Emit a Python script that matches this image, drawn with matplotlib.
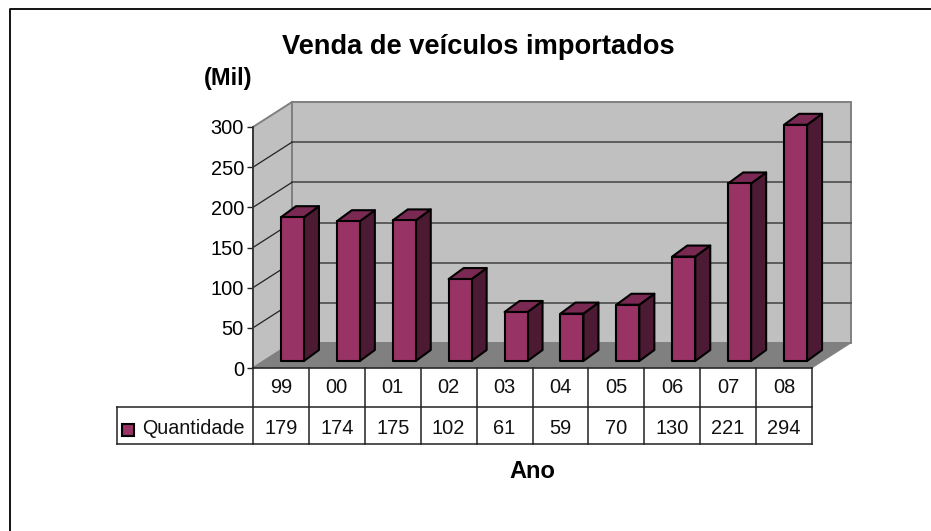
import matplotlib
matplotlib.use("Agg")
import matplotlib.pyplot as plt
from matplotlib.patches import Polygon, Rectangle

plt.rcParams['font.family'] = ['Liberation Sans', 'DejaVu Sans']

anos = ["99", "00", "01", "02", "03", "04", "05", "06", "07", "08"]
quantidade = [179, 174, 175, 102, 61, 59, 70, 130, 221, 294]
yticks = [0, 50, 100, 150, 200, 250, 300]
titulo = "Venda de veículos importados"
serie = "Quantidade"

W, H = 931, 531
X0, X1, Y0, Y1 = 253.0, 812.0, 368.0, 127.0
fig = plt.figure(figsize=(W / 100, H / 100), dpi=100, facecolor="white")
ax = fig.add_axes([X0 / W, 1 - Y0 / H, (X1 - X0) / W, (Y0 - Y1) / H])
ax.set_xlim(0, len(anos))
ax.set_ylim(0, 300)
ax.patch.set_visible(False)

sx = (X1 - X0) / len(anos)
sy = (Y0 - Y1) / 300
px = lambda p: p / sx
py = lambda p: p / sy
dx, dy = px(39), py(25)
n = len(anos)
WALL, FLOOR, GRID = "#C0C0C0", "#808080", "#555555"

# figure frame (cropped at right and bottom)
fig.add_artist(plt.Line2D([9.5 / W, 9.5 / W, 1], [0, 1 - 8.5 / H, 1 - 8.5 / H],
                          color="black", lw=1.3, transform=fig.transFigure))

# walls and floor
ax.add_patch(Polygon([(0, 0), (0, 300), (dx, 300 + dy), (dx, dy)], fc=WALL, ec=FLOOR, lw=1.4, clip_on=False, zorder=1))
ax.add_patch(Polygon([(dx, dy), (dx, 300 + dy), (n + dx, 300 + dy), (n + dx, dy)], fc=WALL, ec=FLOOR, lw=1.4, clip_on=False, zorder=1))
ax.add_patch(Polygon([(0, 0), (dx, dy), (n + dx, dy), (n, 0)], fc=FLOOR, ec=FLOOR, lw=0.5, clip_on=False, zorder=1.5))

# gridlines
for t in yticks[1:-1]:
    ax.plot([dx, n + dx], [t + dy, t + dy], color=GRID, lw=1.3, clip_on=False, zorder=2)
    ax.plot([0, dx], [t, t + dy], color="#222222", lw=0.9, clip_on=False, zorder=2)

# bars
bw = px(23)
fx, fy = px(11.5), py(7)
bdx, bdy = px(15), py(11)
for i, v in enumerate(quantidade):
    l = i + 0.5 - bw / 2 + fx
    r = l + bw
    b = fy
    t = fy + v
    kw = dict(ec="black", lw=1.5, clip_on=False, zorder=3, joinstyle="round")
    ax.add_patch(Polygon([(r, b), (r + bdx, b + bdy), (r + bdx, t + bdy), (r, t)], fc="#4D1A33", **kw))
    ax.add_patch(Polygon([(l, t), (l + bdx, t + bdy), (r + bdx, t + bdy), (r, t)], fc="#7A2952", **kw))
    ax.add_patch(Polygon([(l, b), (r, b), (r, t), (l, t)], fc="#993366", **kw))

# axis
for s in ("top", "right", "bottom"):
    ax.spines[s].set_visible(False)
ax.spines["left"].set_linewidth(1.3)
ax.spines["left"].set_color("#333333")
ax.spines["left"].set_zorder(5)
ax.set_xticks([])
ax.set_yticks(yticks)
ax.tick_params(axis="y", length=4.5, width=1, pad=2, labelsize=14.4, color="#222222")

# data table
r1, r2 = py(-39), py(-76)
xl = px(117 - X0)
tk = dict(color="#222222", lw=1.1, clip_on=False, zorder=6)
ax.plot([0, n], [0, 0], **tk)
ax.plot([xl, n], [r1, r1], **tk)
ax.plot([xl, n], [r2, r2], **tk)
ax.plot([xl, xl], [r1, r2], **tk)
for i in range(n + 1):
    ax.plot([i, i], [0, r2], **tk)
for i in range(n):
    ax.text(i + 0.5, py(-19.5), anos[i], ha="center", va="center", fontsize=14.4, color="#111111", clip_on=False)
    ax.text(i + 0.5, py(-60), str(quantidade[i]), ha="center", va="center", fontsize=14.4, color="#111111", clip_on=False)
ax.add_patch(Rectangle((px(122.5 - X0), py(368 - 436)), px(12), py(12), fc="#993366", ec="black", lw=1.5, clip_on=False, zorder=6))
ax.text(px(142 - X0), py(-61), serie, ha="left", va="center", fontsize=14.2, color="#111111", clip_on=False)

# titles
fig.text(478 / W, 1 - 47.5 / H, titulo, ha="center", va="center", fontsize=19.6, fontweight="bold", color="black")
fig.text(228 / W, 1 - 79 / H, "(Mil)", ha="center", va="center", fontsize=17, fontweight="bold", color="black")
fig.text(532 / W, 1 - 471 / H, "Ano", ha="center", va="center", fontsize=17, fontweight="bold", color="black")

fig.savefig("out.png", dpi=100, facecolor="white")
